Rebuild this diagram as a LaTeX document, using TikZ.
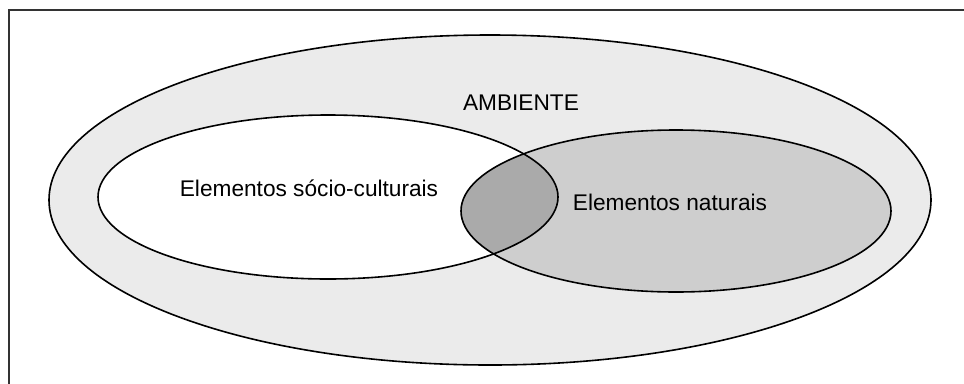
\documentclass[tikz,border=0pt]{standalone}
\usepackage{fontspec}
\setmainfont{Liberation Sans}
\definecolor{ambfill}{HTML}{EBEBEB}
\definecolor{natfill}{HTML}{CECECE}
\definecolor{cutfill}{HTML}{AAAAAA}
\tikzset{
 ring/.style={draw=black,line width=1.2pt},
 lbl/.style={font=\fontsize{17}{20}\selectfont,inner sep=0pt}
}
\begin{document}
\begin{tikzpicture}[x=0.75pt,y=-0.75pt]
 \useasboundingbox (0,0) rectangle (964,383);
 \draw [line width=1.2pt,black!80](9,384)--(9,10)--(965,10);
 \draw[ring,fill=ambfill](490,200) ellipse (441 and 165);
 \fill[white](328,197) ellipse (230 and 82);
 \fill[natfill](676,211) ellipse (215 and 81);
 \begin{scope}
  \clip (328,197) ellipse (230 and 82);
  \fill[cutfill](676,211) ellipse (215 and 81);
 \end{scope}
 \draw[ring](328,197) ellipse (230 and 82);
 \draw[ring](676,211) ellipse (215 and 81);
 \node[lbl] (amb) at (521,103) {AMBIENTE};
 \node[lbl] (soc) at (309,188) {Elementos sócio-culturais};
 \node[lbl] (nat) at (670,202) {Elementos naturais};
\end{tikzpicture}
\end{document}
